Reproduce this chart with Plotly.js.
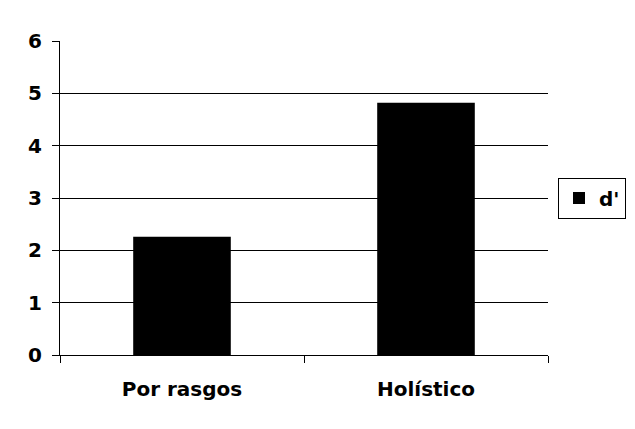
<!DOCTYPE html>
<html>
<head>
<meta charset="utf-8">
<script src="https://cdn.plot.ly/plotly-3.0.1.min.js"></script>
<style>body{margin:0;padding:0;background:#fff;}#chart{width:635px;height:429px;}</style>
</head>
<body>
<div id="chart"></div>
<script>
const categories = ["Por rasgos", "Holístico"];
const dprime = [2.26, 4.82];
const seriesName = "d'";
const yTicks = [0, 1, 2, 3, 4, 5, 6];

const fontFam = "DejaVu Sans, Verdana, sans-serif";
const data = [{
  type: "bar",
  x: categories,
  y: dprime,
  name: seriesName,
  width: 0.4,
  marker: {color: "#000000", line: {width: 0}},
  showlegend: true
}];
const layout = {
  width: 635, height: 429,
  margin: {l: 60, r: 87, t: 41, b: 74},
  paper_bgcolor: "#ffffff", plot_bgcolor: "#ffffff",
  font: {family: fontFam, color: "#000", size: 20, weight: "bold"},
  showlegend: true,
  legend: {
    xref: "container", yref: "container",
    x: 558 / 635, xanchor: "left", y: 1 - 198 / 429, yanchor: "middle",
    bordercolor: "#000", borderwidth: 1, bgcolor: "#fff",
    font: {family: fontFam, size: 20, color: "#000", weight: "bold"},
    itemwidth: 30
  },
  xaxis: {
    type: "category",
    showline: true, linecolor: "#000", linewidth: 1,
    ticks: "outside", tickson: "boundaries", ticklen: 7, tickcolor: "#000",
    showgrid: false,
    tickfont: {family: fontFam, size: 20, color: "#000", weight: "bold"},
    ticklabelstandoff: 16,
    range: [-0.5, 1.5]
  },
  yaxis: {
    range: [0, 6],
    tickvals: yTicks,
    ticktext: yTicks.map(String),
    showline: true, linecolor: "#000", linewidth: 1,
    ticks: "outside", ticklen: 7, tickcolor: "#000",
    showgrid: true, gridcolor: "#000", gridwidth: 1,
    zeroline: false,
    tickfont: {family: fontFam, size: 20, color: "#000", weight: "bold"},
    ticklabelstandoff: 6
  },
  bargap: 0.6
};
Plotly.newPlot("chart", data, layout, {staticPlot: true, displayModeBar: false});
</script>
</body>
</html>
